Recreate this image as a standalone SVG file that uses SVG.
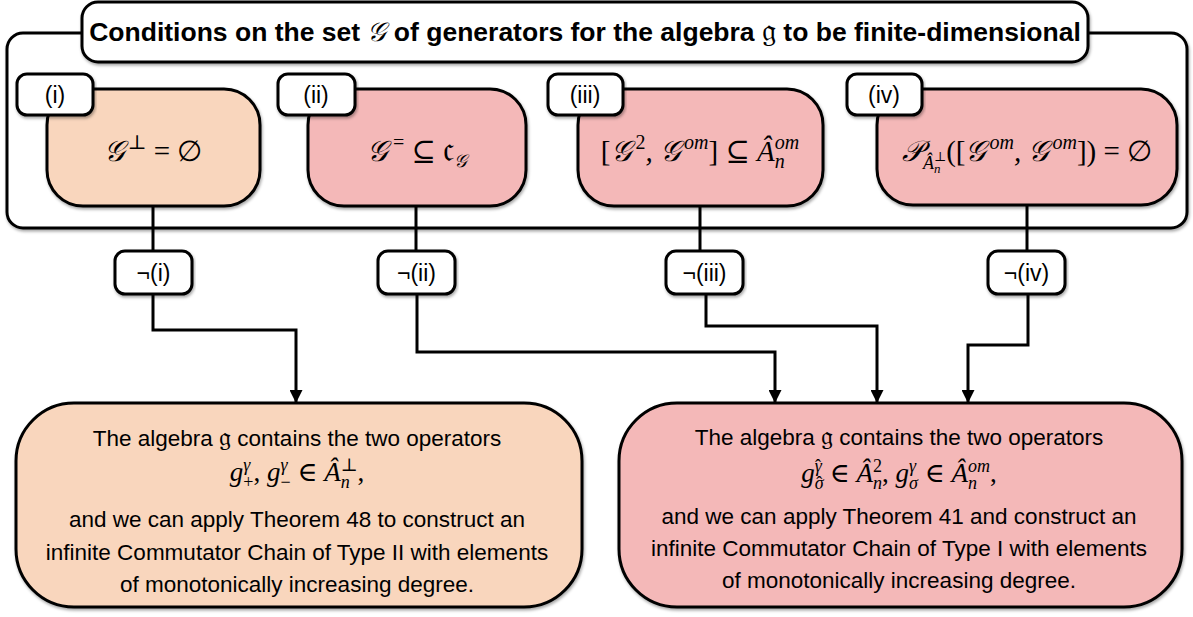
<svg xmlns="http://www.w3.org/2000/svg" width="1193" height="617" viewBox="0 0 1193 617">
<defs>
<filter id="sh" x="-5%" y="-10%" width="110%" height="130%">
<feDropShadow dx="1" dy="2" stdDeviation="1.5" flood-color="#000" flood-opacity="0.35"/>
</filter>
<marker id="arr" viewBox="0 0 10 10" refX="10" refY="5" markerWidth="13" markerHeight="13" markerUnits="userSpaceOnUse" orient="auto">
<path d="M0,0 L10,5 L0,10 z" fill="#000"/>
</marker>
<style>
.box{stroke:#000;stroke-width:3;filter:url(#sh)}
.w{fill:#fff}
.peach{fill:#F9D6BD}
.pink{fill:#F4B8B8}
.t{font-family:"Liberation Sans",Arial,Helvetica,sans-serif;fill:#000;text-anchor:middle}
.lbl{font-size:23px}
.body{font-size:22.5px}
.title{font-size:26.5px;font-weight:bold}
.m{font-family:"Liberation Serif","Times New Roman","DejaVu Serif",serif;font-size:29px;font-style:italic;text-anchor:middle;fill:#000}
.mb{font-size:27px}
.u{font-style:normal}
.fk{font-family:"Liberation Serif","DejaVu Serif",serif;font-weight:normal;font-style:normal}
.c{fill:none;stroke:#000;stroke-width:3}
</style>
</defs>

<g id="container">
<rect class="box w" x="7" y="33" width="1180" height="195" rx="16"/>
</g>
<g id="title">
<rect class="box w" x="82" y="2" width="1006" height="60" rx="16"/>
<text class="t title" x="585" y="41">Conditions on the set <tspan font-family="'Liberation Serif',serif" font-weight="normal" font-style="italic">𝒢</tspan> of generators for the algebra <tspan class="fk" font-size="32">𝔤</tspan> to be finite-dimensional</text>
</g>

<g id="node-i">
<rect class="box peach" x="47" y="89" width="213" height="117" rx="36"/>
<rect class="box w" x="17" y="74" width="76" height="41" rx="10"/>
<text class="t lbl" x="55" y="103">(i)</text>
<text class="m" x="153" y="161">𝒢<tspan class="u" font-size="20" dx="3" dy="-12">⊥</tspan><tspan class="u" dy="12"> = ∅</tspan></text>
</g>

<g id="node-ii">
<rect class="box pink" x="308" y="89" width="218" height="117" rx="36"/>
<rect class="box w" x="278" y="74" width="77" height="41" rx="10"/>
<text class="t lbl" x="316" y="103">(ii)</text>
<text class="m" x="417" y="161">𝒢<tspan class="u" font-size="20" dx="5" dy="-12">=</tspan><tspan class="u" dy="12"> ⊆ </tspan><tspan class="fk" font-size="36">𝔠</tspan><tspan font-size="18" dy="6">𝒢</tspan></text>
</g>

<g id="node-iii">
<rect class="box pink" x="578" y="89" width="245" height="117" rx="36"/>
<rect class="box w" x="548" y="74" width="75" height="41" rx="10"/>
<text class="t lbl" x="585" y="103">(iii)</text>
<text class="m" x="700" y="161"><tspan class="u">[</tspan>𝒢<tspan class="u" font-size="20" dx="4" dy="-12">2</tspan><tspan dy="12">, 𝒢</tspan><tspan font-size="20" dx="3" dy="-12">om</tspan><tspan class="u" dy="12">] ⊆ </tspan>Â<tspan font-size="20" dy="7">n</tspan><tspan font-size="20" dx="-10" dy="-19">om</tspan><tspan dy="12"> </tspan></text>
</g>

<g id="node-iv">
<rect class="box pink" x="877" y="89" width="300" height="116" rx="36"/>
<rect class="box w" x="847" y="74" width="75" height="41" rx="10"/>
<text class="t lbl" x="884" y="103">(iv)</text>
<text class="m" x="1027" y="161">𝒫<tspan font-size="18" dy="8">Â</tspan><tspan font-size="13" dy="4">n</tspan><tspan class="u" font-size="13" dx="-6.5" dy="-12">⊥</tspan><tspan class="u">([</tspan>𝒢<tspan font-size="20" dx="3" dy="-12">om</tspan><tspan dy="12">, 𝒢</tspan><tspan font-size="20" dx="3" dy="-12">om</tspan><tspan class="u" dy="12">]) = ∅</tspan></text>
</g>

<g id="connectors">
<path class="c" d="M153,206 V251"/>
<path class="c" d="M416,206 V251"/>
<path class="c" d="M700,206 V251"/>
<path class="c" d="M1027,205 V251"/>
<path class="c" d="M153,294 V330 H296 V403" marker-end="url(#arr)"/>
<path class="c" d="M417,294 V352 H775 V403" marker-end="url(#arr)"/>
<path class="c" d="M706,294 V326 H877 V403" marker-end="url(#arr)"/>
<path class="c" d="M1028,294 V345 H968 V403" marker-end="url(#arr)"/>
</g>

<g id="neg-i">
<rect class="box w" x="115" y="251" width="77" height="43" rx="10"/>
<text class="t lbl" x="153.5" y="281">¬(i)</text>
</g>
<g id="neg-ii">
<rect class="box w" x="378" y="251" width="77" height="43" rx="10"/>
<text class="t lbl" x="416.5" y="281">¬(ii)</text>
</g>
<g id="neg-iii">
<rect class="box w" x="666" y="251" width="77" height="43" rx="10"/>
<text class="t lbl" x="704.5" y="281">¬(iii)</text>
</g>
<g id="neg-iv">
<rect class="box w" x="988" y="251" width="77" height="43" rx="10"/>
<text class="t lbl" x="1026.5" y="281">¬(iv)</text>
</g>

<g id="result-left">
<rect class="box peach" x="16" y="403" width="566" height="204" rx="58"/>
<text class="t body" x="297" y="446">The algebra <tspan class="fk" font-size="27">𝔤</tspan> contains the two operators</text>
<text class="m mb" x="297" y="481">g<tspan class="u" font-size="18" dy="7">+</tspan><tspan font-size="18" dx="-10" dy="-17">γ</tspan><tspan class="u" dx="3" dy="10">, </tspan>g<tspan class="u" font-size="18" dy="7">−</tspan><tspan font-size="18" dx="-10" dy="-17">γ</tspan><tspan class="u" dx="3" dy="10"> ∈ </tspan>Â<tspan font-size="18" dy="7">n</tspan><tspan class="u" font-size="18" dx="-9" dy="-17">⊥</tspan><tspan class="u" dy="10">,</tspan></text>
<text class="t body" x="297" y="527">and we can apply Theorem 48 to construct an</text>
<text class="t body" x="297" y="560">infinite Commutator Chain of Type II with elements</text>
<text class="t body" x="297" y="592">of monotonically increasing degree.</text>
</g>

<g id="result-right">
<rect class="box pink" x="619" y="403" width="563" height="204" rx="58"/>
<text class="t body" x="899" y="445">The algebra <tspan class="fk" font-size="27">𝔤</tspan> contains the two operators</text>
<text class="m mb" x="899" y="482">g<tspan font-size="18" dy="7">σ</tspan><tspan class="u" font-size="18" dx="-7.5">ˆ</tspan><tspan font-size="18" dx="-7.5" dy="-17">γ</tspan><tspan class="u" font-size="18" dx="-6.7">ˆ</tspan><tspan class="u" dx="2" dy="10"> ∈ </tspan>Â<tspan font-size="18" dy="7">n</tspan><tspan class="u" font-size="18" dx="-9" dy="-17">2</tspan><tspan class="u" dy="10">, </tspan>g<tspan font-size="18" dy="7">σ</tspan><tspan font-size="18" dx="-9" dy="-17">γ</tspan><tspan class="u" dx="2" dy="10"> ∈ </tspan>Â<tspan font-size="18" dy="7">n</tspan><tspan font-size="18" dx="-9" dy="-17">om</tspan><tspan class="u" dy="10">,</tspan></text>
<text class="t body" x="899" y="524">and we can apply Theorem 41 and construct an</text>
<text class="t body" x="899" y="556">infinite Commutator Chain of Type I with elements</text>
<text class="t body" x="899" y="588">of monotonically increasing degree.</text>
</g>
</svg>
